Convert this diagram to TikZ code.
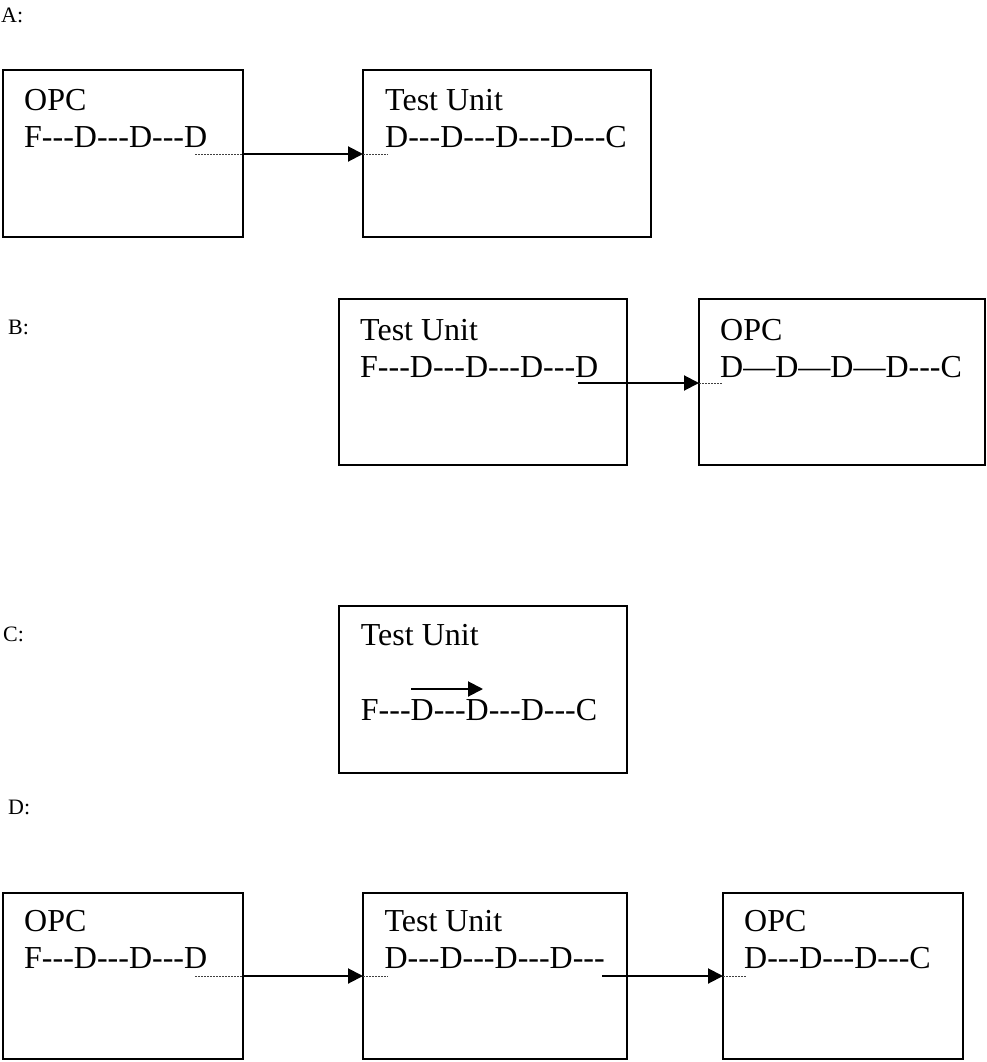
\documentclass[tikz,border=0pt]{standalone}
\usepackage{fontspec}
\setmainfont{Liberation Serif}[Ligatures=TeXOff]
\usetikzlibrary{arrows.meta}
\begin{document}
\begin{tikzpicture}[x=1pt,y=-1pt,
  unitbox/.style={draw, line width=2pt, rectangle, inner sep=0pt, outer sep=0pt, anchor=north west},
  % anchored on the baseline of the last text line
  boxtext/.style={anchor=base west, align=left, inner sep=0pt, font=\fontsize{32}{37}\selectfont},
  caselabel/.style={anchor=base west, inner sep=0pt, font=\fontsize{22}{26}\selectfont},
  conn/.style={line width=2pt, -{Triangle[length=15pt,width=15pt]}},
  trail/.style={line width=1pt, black!75, dash pattern=on 1.5pt off 1.5pt}]
\useasboundingbox (0,0) rectangle (987,1062);

% ---- case A: OPC feeds the test unit
\node[caselabel] (la) at (1,22.7) {A:};
\node[unitbox, minimum width=240pt, minimum height=167pt] (a1) at (3,70) {};
\node[unitbox, minimum width=288pt, minimum height=167pt] (a2) at (363,70) {};
\node[boxtext] (ta1) at (24,147.5) {OPC\\F---D---D---D};
\node[boxtext] (ta2) at (385,147.5) {Test Unit\\D---D---D---D---C};
\coordinate (sa) at (195,154);
\draw[trail] (sa) -- (sa -| a1.east);
\draw[conn] (sa -| a1.east) -- (sa -| a2.west);
\draw[trail] (sa -| a2.west) -- ++(25,0);

% ---- case B: test unit feeds OPC
\node[caselabel] (lb) at (8,334) {B:};
\node[unitbox, minimum width=288pt, minimum height=166pt] (b1) at (339,299) {};
\node[unitbox, minimum width=286pt, minimum height=166pt] (b2) at (699,299) {};
\node[boxtext] (tb1) at (360,377.3) {Test Unit\\F---D---D---D---D};
\node[boxtext] (tb2) at (720,377.3) {OPC\\D—D—D—D---C};
\coordinate (sb) at (578,383);
\draw[conn] (sb) -- (sb -| b2.west);
\draw[trail] (sb -| b2.west) -- ++(23,0);

% ---- case C: inside the test unit
\node[caselabel] (lc) at (3,641.7) {C:};
\node[unitbox, minimum width=288pt, minimum height=167pt] (c1) at (339,606) {};
\node[boxtext] (tc1) at (360.7,720.7) {Test Unit\\[38.7pt]F---D---D---D---C};
\coordinate (sc) at (411,689);
\coordinate (ec) at (483,689);
\draw[conn] (sc) -- (ec);

% ---- case D: OPC -> test unit -> OPC
\node[caselabel] (ld) at (8,814) {D:};
\node[unitbox, minimum width=240pt, minimum height=166pt] (d1) at (3,893) {};
\node[unitbox, minimum width=264pt, minimum height=166pt] (d2) at (363,893) {};
\node[unitbox, minimum width=240pt, minimum height=166pt] (d3) at (723,893) {};
\node[boxtext] (td1) at (24,968) {OPC\\F---D---D---D};
\node[boxtext] (td2) at (384.3,968) {Test Unit\\D---D---D---D---};
\node[boxtext] (td3) at (744,968) {OPC\\D---D---D---C};
\coordinate (sd1) at (195,976);
\draw[trail] (sd1) -- (sd1 -| d1.east);
\draw[conn] (sd1 -| d1.east) -- (sd1 -| d2.west);
\draw[trail] (sd1 -| d2.west) -- ++(25,0);
\coordinate (sd2) at (602,976);
\draw[conn] (sd2) -- (sd2 -| d3.west);
\draw[trail] (sd2 -| d3.west) -- ++(23,0);
\end{tikzpicture}
\end{document}
